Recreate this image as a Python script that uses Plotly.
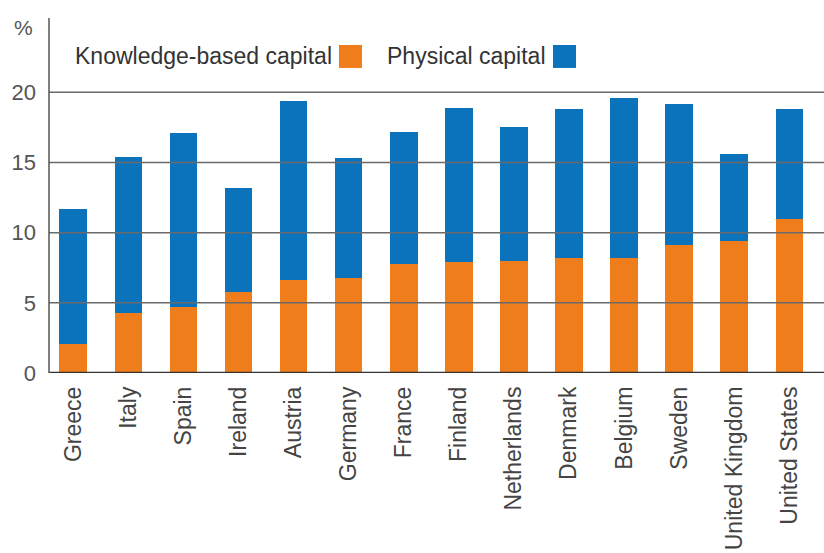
import plotly.graph_objects as go

countries = ["Greece", "Italy", "Spain", "Ireland", "Austria", "Germany", "France",
             "Finland", "Netherlands", "Denmark", "Belgium", "Sweden",
             "United Kingdom", "United States"]
knowledge = [2.1, 4.3, 4.7, 5.8, 6.6, 6.8, 7.8, 7.9, 8.0, 8.2, 8.2, 9.1, 9.4, 11.0]
physical = [9.6, 11.1, 12.4, 7.4, 12.8, 8.5, 9.4, 11.0, 9.55, 10.6, 11.4, 10.05, 6.2, 7.8]
y_ticks = [0, 5, 10, 15, 20]
legend_labels = ["Knowledge-based capital", "Physical capital"]

ORANGE = "#EF7D1C"
BLUE = "#0B73BC"
W, H = 824, 553
L, T, B = 49, 18, 179.7
PW = W - L
PH = H - T - B

def px(x):
    return (x - L) / PW

def py(y):
    return (H - B - y) / PH

fig = go.Figure()
fig.add_trace(go.Bar(x=countries, y=knowledge, marker=dict(color=ORANGE, line_width=0),
                     width=0.5, name=legend_labels[0]))
fig.add_trace(go.Bar(x=countries, y=physical, marker=dict(color=BLUE, line_width=0),
                     width=0.5, name=legend_labels[1]))

shapes = []
for v in y_ticks[1:]:
    shapes.append(dict(type="line", xref="paper", yref="y", x0=0, x1=1, y0=v, y1=v,
                       line=dict(color="#6a6a6a", width=1.5), layer="above"))
shapes.append(dict(type="line", xref="paper", yref="y", x0=0, x1=1, y0=0, y1=0,
                   line=dict(color="#333333", width=2.5), layer="above"))
shapes.append(dict(type="line", xref="paper", yref="paper", x0=0, x1=0, y0=0, y1=1,
                   line=dict(color="#555555", width=1.5), layer="above"))
# legend swatches
shapes.append(dict(type="rect", xref="paper", yref="paper", x0=px(339), x1=px(362),
                   y0=py(68), y1=py(45), fillcolor=ORANGE, line_width=0))
shapes.append(dict(type="rect", xref="paper", yref="paper", x0=px(553), x1=px(576),
                   y0=py(68), y1=py(45), fillcolor=BLUE, line_width=0))

FONT = "Liberation Sans, Arial"
annotations = [
    dict(text=legend_labels[0], xref="paper", yref="paper", x=px(334), y=py(56.5),
         xanchor="right", yanchor="middle", showarrow=False,
         font=dict(size=23, color="#333333", family=FONT)),
    dict(text=legend_labels[1], xref="paper", yref="paper", x=px(548), y=py(56.5),
         xanchor="right", yanchor="middle", showarrow=False,
         font=dict(size=23, color="#333333", family=FONT)),
    dict(text="%", xref="paper", yref="paper", x=px(23), y=py(28),
         xanchor="center", yanchor="middle", showarrow=False,
         font=dict(size=21, color="#555555", family=FONT)),
]

fig.update_layout(
    barmode="stack",
    width=W, height=H,
    margin=dict(l=L, r=0, t=T, b=B, pad=0),
    paper_bgcolor="white", plot_bgcolor="white",
    showlegend=False,
    shapes=shapes,
    annotations=annotations,
    font=dict(family=FONT, color="#444444"),
    xaxis=dict(range=[-0.44, 13.63], tickangle=-90, showgrid=False, showline=False,
               ticks="", tickfont=dict(size=23, color="#444444"),
               ticklabelstandoff=8, fixedrange=True),
    yaxis=dict(range=[0, 25.29], tickvals=y_ticks, showgrid=False, zeroline=False,
               showline=False, ticks="", tickfont=dict(size=22, color="#555555"),
               ticklabelstandoff=12, fixedrange=True),
)

fig.write_html("out.html")
